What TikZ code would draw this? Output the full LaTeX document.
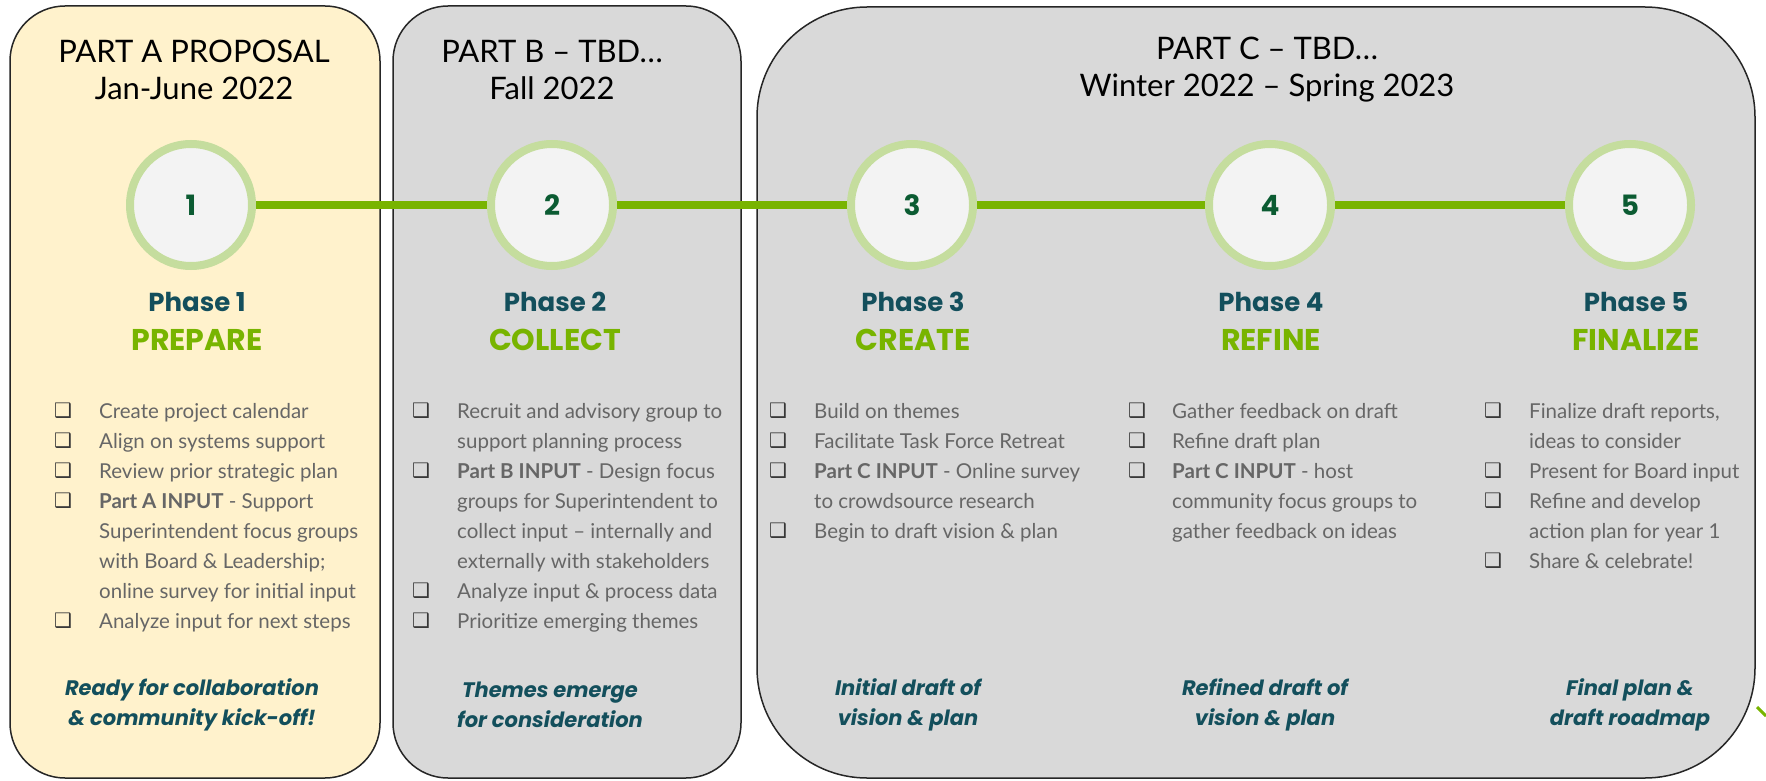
\documentclass[tikz,border=0pt]{standalone}
\usepackage{fontspec}
\setmainfont{Lato}
\newfontfamily\popfont{Poppins}
\newfontfamily\symfont{DejaVu Sans}
\usetikzlibrary{positioning}

\definecolor{partA}{HTML}{FFF2CC}
\definecolor{partgray}{HTML}{D9D9D9}
\definecolor{ringgreen}{HTML}{C5DD9E}
\definecolor{linegreen}{HTML}{78B400}
\definecolor{phaseteal}{HTML}{134F5C}
\definecolor{numgreen}{HTML}{0B5B32}
\definecolor{bodygray}{HTML}{666666}
\definecolor{circfill}{HTML}{F3F3F3}

\tikzset{
	partbox/.style={draw=black!85, line width=1.5pt},
	stage/.style={circle, draw=ringgreen, line width=8pt, fill=circfill, minimum size=122pt, inner sep=0pt, text=numgreen, font=\popfont\bfseries\fontsize{28}{30}\selectfont},
	link/.style={draw=linegreen, line width=8pt},
	head/.style={align=center, font=\fontsize{31}{37}\selectfont},
	phasenum/.style={text=phaseteal, font=\popfont\bfseries\fontsize{26}{30}\selectfont},
	phasename/.style={text=linegreen, font=\popfont\bfseries\fontsize{30}{34}\selectfont},
	itemtext/.style={anchor=base west, inner sep=0pt, text=bodygray, font=\fontsize{20.5}{30}\selectfont},
	tick/.style={inner sep=0pt, text=bodygray!55!black, font=\symfont\fontsize{20}{22}\selectfont},
	outcome/.style={align=center, text=phaseteal, font=\popfont\bfseries\itshape\fontsize{21}{30}\selectfont},
}

\begin{document}
\begin{tikzpicture}[x=1pt, y=-1pt]
		\useasboundingbox (0,0) rectangle (1766,781);
		% the three parts
		\draw[partbox, fill=partA, rounded corners=55pt] (10,6) rectangle (380,778);
		\draw[partbox, fill=partgray, rounded corners=55pt] (393,6) rectangle (741,778);
		\draw[partbox, fill=partgray, rounded corners=110pt] (757,7) rectangle (1755,778);
		
		\node[head] (hA) at (194,70) {PART A PROPOSAL\\Jan-June 2022};
		\node[head] (hB) at (552,70) {PART B – TBD…\\Fall 2022};
		\node[head] (hC) at (1267,70) {PART C – TBD…\\Winter 2022 – Spring 2023};
		
		% timeline
		\foreach \n/\x in {1/191, 2/552, 3/912, 4/1270, 5/1630}
			\node[stage] (c\n) at (\x,205) {\n};
		\foreach \a/\b in {1/2, 2/3, 3/4, 4/5}
			\draw[link] (c\a) -- (c\b);
		
		\foreach \n/\x/\w in {1/197/PREPARE, 2/555/COLLECT, 3/913/CREATE, 4/1271/REFINE, 5/1636/FINALIZE}
		{
			\node[phasenum] (p\n) at (\x,302) {Phase \n};
			\node[phasename] (w\n) at (\x,340) {\w};
		}
		
		% task lists
		\def\col{a}
		\def\xb{63}
		\def\xt{99}
		\foreach \f/\t [count=\i] in {1/Create project calendar, 1/Align on systems support, 1/Review prior strategic plan, 1/{\textbf{Part A INPUT} - Support}, 0/Superintendent focus groups, 0/{with Board \& Leadership;}, 0/online survey for initial input, 1/Analyze input for next steps}
		{
			\node[itemtext] (\col\i) at (\xt,{388+30*\i}) {\t};
			\ifnum\f=1 \node[tick] (t\col\i) at (\xb,{381+30*\i}) {❑}; \fi
		}
		
		\def\col{b}
		\def\xb{421}
		\def\xt{457}
		\foreach \f/\t [count=\i] in {1/Recruit and advisory group to, 0/support planning process, 1/{\textbf{Part B INPUT} - Design focus}, 0/groups for Superintendent to, 0/collect input – internally and, 0/externally with stakeholders, 1/{Analyze input \& process data}, 1/Prioritize emerging themes}
		{
			\node[itemtext] (\col\i) at (\xt,{388+30*\i}) {\t};
			\ifnum\f=1 \node[tick] (t\col\i) at (\xb,{381+30*\i}) {❑}; \fi
		}
		
		\def\col{c}
		\def\xb{778}
		\def\xt{814}
		\foreach \f/\t [count=\i] in {1/Build on themes, 1/Facilitate Task Force Retreat, 1/{\textbf{Part C INPUT} - Online survey}, 0/to crowdsource research, 1/{Begin to draft vision \& plan}}
		{
			\node[itemtext] (\col\i) at (\xt,{388+30*\i}) {\t};
			\ifnum\f=1 \node[tick] (t\col\i) at (\xb,{381+30*\i}) {❑}; \fi
		}
		
		\def\col{d}
		\def\xb{1137}
		\def\xt{1172}
		\foreach \f/\t [count=\i] in {1/Gather feedback on draft, 1/Refine draft plan, 1/{\textbf{Part C INPUT} - host}, 0/community focus groups to, 0/gather feedback on ideas}
		{
			\node[itemtext] (\col\i) at (\xt,{388+30*\i}) {\t};
			\ifnum\f=1 \node[tick] (t\col\i) at (\xb,{381+30*\i}) {❑}; \fi
		}
		
		\def\col{e}
		\def\xb{1493}
		\def\xt{1529}
		\foreach \f/\t [count=\i] in {1/{Finalize draft reports,}, 0/ideas to consider, 1/Present for Board input, 1/Refine and develop, 0/action plan for year 1, 1/{Share \& celebrate!}}
		{
			\node[itemtext] (\col\i) at (\xt,{388+30*\i}) {\t};
			\ifnum\f=1 \node[tick] (t\col\i) at (\xb,{381+30*\i}) {❑}; \fi
		}
		
		% outcomes
		\node[outcome] (oa) at (192,705) {Ready for collaboration\\\& community kick-off!};
		\node[outcome] (ob) at (550,705) {Themes emerge\\for consideration};
		\node[outcome] (oc) at (908,705) {Initial draft of\\vision \& plan};
		\node[outcome] (od) at (1265,705) {Refined draft of\\vision \& plan};
		\node[outcome] (oe) at (1630,705) {Final plan \&\\draft roadmap};
		
		\draw[linegreen, line width=3pt] (1757,707) -- (1766,716);
\end{tikzpicture}
\end{document}
